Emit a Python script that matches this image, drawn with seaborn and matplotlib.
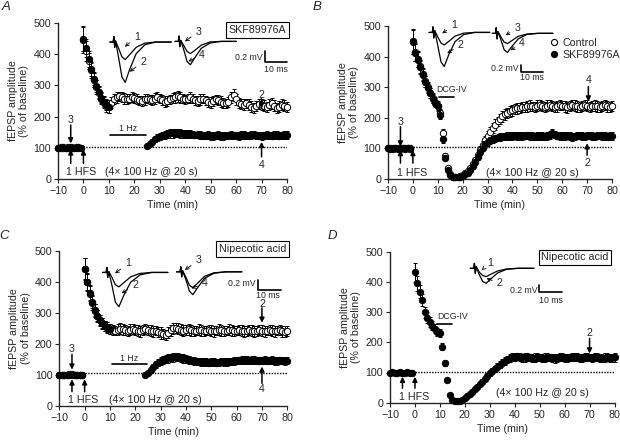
import numpy as np
import pandas as pd
import seaborn as sns
import matplotlib
matplotlib.use('Agg')
import matplotlib.pyplot as plt
from matplotlib.lines import Line2D

sns.set_theme(style='ticks')
plt.rcParams['font.family'] = ['Liberation Sans', 'DejaVu Sans']

NA = float('nan')

# time axis, one sample per minute
time_min = list(range(-10, 81))

# ---------------- panel A ----------------
a_ctrl = [100, 101, 99, 100, 102, 99, 100, 101, 100, 99,
          445, 410, 378, 348, 318, 295, 275, 258, 245, 235, 232,
          245, 255, 262, 265, 262, 258, 255, 258, 262, 260,
          255, 252, 250, 255, 258, 255, 252, 258, 262, 258,
          252, 248, 250, 255, 260, 262, 265, 262, 258, 255,
          258, 262, 258, 252, 250, 255, 258, 252, 248, 245,
          250, 255, 252, 248, 245, 242, 248, 262, 270, 255,
          245, 240, 238, 242, 238, 232, 228, 235, 240, 238,
          235, 232, 238, 242, 235, 228, 232, 238, 235, 232]
a_ctrl_sem = [6, 5, 6, 5, 6, 5, 6, 5, 6, 5,
              42, 32, 27, 24, 22, 21, 20, 19, 19, 19, 21,
              18, 16, 17, 15, 16, 17, 16, 15, 16, 17,
              16, 15, 16, 17, 16, 15, 16, 17, 16, 15,
              16, 17, 16, 15, 16, 17, 18, 17, 16, 15,
              16, 17, 16, 15, 16, 17, 16, 15, 16, 17,
              16, 15, 16, 17, 16, 15, 16, 18, 20, 17,
              16, 17, 18, 16, 17, 18, 17, 16, 17, 18,
              17, 16, 17, 18, 17, 16, 17, 18, 17, 16]
a_skf = [100, 99, 101, 100, 100, 102, 99, 100, 101, 100,
         450, 420, 385, 352, 322, 298, 278, 260, 248, 238, 232,
         NA, NA, NA, NA, NA, NA, NA, NA, NA, NA, NA, NA, NA, NA,
         105, 113, 120, 127, 132, 136,
         139, 142, 144, 146, 147, 148, 147, 146, 145, 144,
         145, 143, 142, 141, 142, 140, 139, 140, 141, 139,
         138, 140, 141, 139, 138, 139, 140, 141, 140, 139,
         138, 140, 141, 140, 139, 141, 142, 140, 139, 138,
         140, 141, 140, 139, 141, 140, 139, 140, 141, 140]
a_skf_sem = [5, 6, 5, 6, 5, 6, 5, 6, 5, 6,
             40, 30, 26, 23, 21, 20, 19, 18, 18, 18, 20,
             NA, NA, NA, NA, NA, NA, NA, NA, NA, NA, NA, NA, NA, NA,
             6, 8, 9, 10, 11, 12,
             12, 13, 12, 13, 14, 13, 12, 13, 12, 13,
             12, 13, 12, 11, 12, 13, 12, 11, 12, 13,
             12, 11, 12, 13, 12, 11, 12, 13, 12, 11,
             12, 13, 12, 11, 12, 13, 12, 11, 12, 13,
             12, 13, 12, 11, 12, 13, 12, 11, 12, 13]

# ---------------- panel B ----------------
b_ctrl = [100, 101, 99, 100, 101, 99, 100, 102, 100, 99,
          448, 415, 392, 368, 343, 320, 300, 282, 265, 252, 240, 215, 150,
          75, 35, 15, 8, 7, 8, 10, 13, 18, 25, 35, 48, 62, 78, 95, 112, 128, 142,
          155, 167, 178, 188, 197, 205, 211, 216, 221, 225,
          228, 231, 233, 235, 236, 238, 240, 237, 236, 239,
          241, 238, 236, 240, 242, 239, 236, 238, 241, 240,
          237, 235, 239, 242, 240, 237, 235, 238, 241, 239,
          236, 238, 240, 237, 235, 239, 241, 238, 236, 239]
b_ctrl_sem = [5, 6, 5, 6, 5, 6, 5, 6, 5, 6,
              40, 30, 25, 22, 20, 18, 17, 16, 15, 15, 15, 15, 12,
              10, 6, 4, 3, 3, 3, 4, 5, 6, 7, 8, 9, 10, 11, 12, 13, 14, 15,
              15, 16, 17, 16, 17, 18, 17, 16, 17, 18,
              17, 18, 17, 16, 17, 18, 17, 16, 17, 18,
              17, 16, 17, 18, 17, 16, 17, 18, 17, 16,
              17, 18, 17, 16, 17, 18, 17, 16, 17, 18,
              17, 16, 17, 18, 17, 16, 17, 18, 17, 16]
b_skf = [100, 99, 101, 100, 99, 101, 100, 99, 101, 100,
         450, 412, 390, 365, 340, 318, 298, 280, 263, 250, 238, 210, 130,
         70, 30, 12, 6, 5, 6, 8, 11, 15, 21, 30, 42, 56, 72, 88, 102, 113, 120,
         126, 130, 133, 135, 137, 138, 139, 140, 141, 140,
         142, 141, 139, 140, 142, 143, 141, 140, 139, 141,
         142, 140, 139, 141, 143, 150, 145, 141, 140, 139,
         141, 142, 140, 138, 139, 141, 142, 140, 139, 141,
         142, 140, 139, 141, 142, 140, 141, 139, 140, 142]
b_skf_sem = [5, 6, 5, 6, 5, 6, 5, 6, 5, 6,
             40, 28, 24, 21, 19, 18, 17, 16, 15, 15, 15, 14, 12,
             9, 5, 3, 3, 3, 3, 3, 4, 5, 6, 7, 8, 9, 10, 10, 11, 11, 12,
             12, 12, 11, 12, 13, 12, 11, 12, 13, 12,
             11, 12, 13, 12, 11, 12, 13, 12, 11, 12,
             13, 12, 11, 12, 13, 14, 12, 11, 12, 13,
             12, 11, 12, 13, 12, 11, 12, 13, 12, 11,
             12, 13, 12, 11, 12, 13, 12, 11, 12, 13]

# ---------------- panel C ----------------
c_ctrl = [100, 101, 99, 100, 102, 99, 100, 101, 100, 99,
          440, 398, 362, 332, 307, 289, 276, 266, 258, 252, 248,
          245, 243, 246, 249, 247, 244, 242, 245, 248, 246,
          243, 241, 244, 247, 245, 242, 240, 243, 238, 235,
          232, 230, 236, 244, 250, 252, 249, 246, 243, 245,
          247, 244, 241, 243, 246, 244, 241, 243, 245, 242,
          240, 243, 246, 244, 241, 243, 246, 244, 241, 243,
          245, 243, 240, 242, 245, 243, 240, 242, 244, 242,
          240, 243, 245, 242, 240, 243, 244, 241, 239, 242]
c_ctrl_sem = [6, 5, 6, 5, 6, 5, 6, 5, 6, 5,
              35, 28, 24, 22, 20, 19, 18, 17, 17, 17, 17,
              17, 16, 17, 18, 17, 16, 17, 18, 17, 16,
              17, 18, 17, 16, 17, 18, 17, 16, 17, 18,
              17, 16, 17, 18, 17, 16, 17, 18, 17, 16,
              17, 18, 17, 16, 17, 18, 17, 16, 17, 18,
              17, 16, 17, 18, 17, 16, 17, 18, 17, 16,
              17, 18, 17, 16, 17, 18, 17, 16, 17, 18,
              17, 16, 17, 18, 17, 16, 17, 18, 17, 16]
c_skf = [100, 99, 101, 100, 100, 102, 99, 100, 101, 100,
         442, 400, 365, 335, 310, 291, 277, 267, 259, 253, 249,
         NA, NA, NA, NA, NA, NA, NA, NA, NA, NA, NA, NA, NA,
         100, 106, 116, 126, 134, 140, 145,
         148, 151, 153, 155, 157, 158, 157, 155, 153, 151,
         149, 147, 145, 144, 143, 142, 143, 141, 140, 141,
         142, 140, 141, 143, 142, 141, 142, 144, 145, 146,
         147, 148, 149, 148, 147, 148, 149, 147, 146, 147,
         148, 146, 147, 148, 146, 145, 147, 146, 145, 146]
c_skf_sem = [5, 6, 5, 6, 5, 6, 5, 6, 5, 6,
             33, 27, 23, 21, 19, 18, 17, 16, 16, 16, 16,
             NA, NA, NA, NA, NA, NA, NA, NA, NA, NA, NA, NA, NA,
             5, 7, 9, 10, 11, 12, 13,
             13, 14, 13, 14, 15, 14, 13, 14, 13, 12,
             13, 12, 13, 12, 11, 12, 13, 12, 11, 12,
             13, 12, 11, 12, 13, 12, 11, 12, 13, 12,
             11, 12, 13, 12, 11, 12, 13, 12, 11, 12,
             13, 12, 11, 12, 13, 12, 11, 12, 13, 12]

# ---------------- panel D ----------------
d_skf = [100, 101, 99, 100, 101, 99, 100, 102, 100, 99,
         432, 395, 368, 340, 300, 282, 268, 255, 245, 235, 230, 185, 130, 75, 25, 8,
         6, 5, 6, 9, 14, 22, 30, 37, 45, 53, 62, 70, 79, 88, 97,
         105, 112, 119, 126, 132, 138, 143, 147, 150, 152,
         153, 151, 149, 150, 152, 150, 148, 149, 151, 150,
         148, 149, 151, 150, 148, 147, 149, 151, 150, 148,
         147, 149, 150, 152, 150, 148, 149, 151, 152, 150,
         149, 151, 150, 148, 147, 149, 150, 148, 149, 150]
d_skf_sem = [5, 6, 5, 6, 5, 6, 5, 6, 5, 6,
             32, 26, 22, 20, 18, 17, 16, 15, 14, 14, 14, 12, 10, 8, 5, 3,
             3, 3, 3, 3, 4, 5, 5, 6, 6, 7, 7, 8, 8, 9, 10,
             10, 11, 11, 12, 12, 13, 13, 13, 13, 14,
             13, 12, 13, 14, 13, 12, 13, 14, 13, 12,
             13, 14, 13, 12, 13, 14, 13, 12, 13, 14,
             13, 12, 13, 14, 13, 12, 13, 14, 13, 12,
             13, 14, 13, 12, 13, 14, 13, 12, 13, 14]

# ---------------- example traces (ms, mV) ----------------
trace_ms = [0, 1.5, 1.8, 2.2, 2.6, 4.0, 5.5, 7.0, 9.0, 12, 16, 21, 28]
trace_a1 = [0, 0, 0.10, -0.10, 0.02, -0.12, -0.28, -0.33, -0.24, -0.10, -0.02, 0.0, 0.0]
trace_a2 = [0, 0, 0.10, -0.10, 0.02, -0.30, -0.66, -0.76, -0.52, -0.22, -0.05, 0.0, 0.0]
trace_a3 = [0, 0, 0.10, -0.10, 0.02, -0.08, -0.19, -0.23, -0.17, -0.07, -0.01, 0.0, 0.0]
trace_a4 = [0, 0, 0.10, -0.10, 0.02, -0.16, -0.38, -0.44, -0.31, -0.13, -0.03, 0.0, 0.0]
trace_b1 = [0, 0, 0.15, -0.15, 0.05, -0.12, -0.29, -0.34, -0.25, -0.10, -0.02, 0.0, 0.0]
trace_b2 = [0, 0, 0.15, -0.15, 0.05, -0.35, -0.80, -0.93, -0.62, -0.25, -0.06, 0.0, 0.0]
trace_b3 = [0, 0, 0.15, -0.15, 0.05, -0.10, -0.24, -0.28, -0.20, -0.08, -0.02, 0.0, 0.0]
trace_b4 = [0, 0, 0.15, -0.15, 0.05, -0.18, -0.45, -0.52, -0.36, -0.15, -0.03, 0.0, 0.0]
trace_c1 = [0, 0, 0.10, -0.10, 0.02, -0.10, -0.25, -0.29, -0.21, -0.09, -0.02, 0.0, 0.0]
trace_c2 = [0, 0, 0.10, -0.10, 0.02, -0.26, -0.60, -0.69, -0.47, -0.20, -0.05, 0.0, 0.0]
trace_c3 = [0, 0, 0.10, -0.10, 0.02, -0.11, -0.27, -0.32, -0.23, -0.09, -0.02, 0.0, 0.0]
trace_c4 = [0, 0, 0.10, -0.10, 0.02, -0.16, -0.39, -0.46, -0.32, -0.13, -0.03, 0.0, 0.0]
trace_d1 = [0, 0, 0.15, -0.15, 0.05, -0.12, -0.22, -0.25, -0.18, -0.08, -0.02, 0.0, 0.0]
trace_d2 = [0, 0, 0.15, -0.15, 0.05, -0.20, -0.40, -0.45, -0.32, -0.14, -0.03, 0.0, 0.0]

FS = 7.7
FS_SMALL = 6.3


def plot_series(ax, values, sem, filled, z):
    df = pd.DataFrame({'time': time_min, 'value': values, 'sem': sem}).dropna()
    ax.errorbar(df['time'], df['value'], yerr=df['sem'], fmt='none', ecolor='black',
                elinewidth=0.7, capsize=1.4, capthick=0.7, zorder=z, clip_on=False)
    sns.scatterplot(data=df, x='time', y='value', ax=ax, s=21,
                    color='black' if filled else 'white', edgecolor='black',
                    linewidth=0.7, zorder=z + 0.5, clip_on=False, legend=False)


def style_axes(ax):
    ax.set_xlim(-10, 80)
    ax.set_ylim(0, 500)
    ax.set_xticks(range(-10, 81, 10))
    ax.set_yticks(range(0, 501, 100))
    ax.set_xlabel('Time (min)', fontsize=FS, labelpad=3)
    ax.set_ylabel('fEPSP amplitude\n(% of baseline)', fontsize=FS, labelpad=3)
    sns.despine(ax=ax)
    for s in ['left', 'bottom']:
        ax.spines[s].set_linewidth(1.0)
    ax.tick_params(direction='out', length=3, width=0.8, labelsize=FS, pad=2)


def dotted(ax, y):
    ax.plot([0, 80], [y, y], ls=(0, (1, 1)), color='black', lw=1, zorder=1)


def big_arrow(ax, x, y_from, y_to):
    ax.annotate('', xy=(x, y_to), xytext=(x, y_from), annotation_clip=False,
                arrowprops=dict(arrowstyle='-|>', color='black', lw=1.1,
                                mutation_scale=7, shrinkA=0, shrinkB=0))


def trace_label(ax, label, text_xy, tip_xy):
    ax.annotate(label, xy=tip_xy, xytext=text_xy, ha='center', va='center',
                fontsize=FS, annotation_clip=False,
                arrowprops=dict(arrowstyle='->', color='black', lw=0.6,
                                shrinkA=1, shrinkB=0, mutation_scale=6))


def draw_trace(ax, mv, x0, y0, min_per_ms, units_per_mv):
    x = x0 + np.asarray(trace_ms) * min_per_ms
    y = y0 + np.asarray(mv) * units_per_mv
    ax.plot(x, y, color='black', lw=0.9, clip_on=False, zorder=6)


def scale_bar(ax, x0, y0, min_per_ms, units_per_mv, mv_xy, ms_xy):
    ax.plot([x0, x0, x0 + 10 * min_per_ms], [y0 + 0.2 * units_per_mv, y0, y0],
            color='black', lw=1.2, clip_on=False)
    ax.text(*mv_xy, '0.2 mV', ha='right', va='center', fontsize=FS_SMALL)
    ax.text(*ms_xy, '10 ms', ha='center', va='center', fontsize=FS_SMALL)


def box_label(ax, x, y, text):
    ax.text(x, y, text, ha='center', va='center', fontsize=FS,
            bbox=dict(boxstyle='square,pad=0.25', fc='white', ec='black', lw=0.8))


fig = plt.figure(figsize=(6.2, 4.41), dpi=100)
axA = fig.add_axes([58 / 620, 1 - 179 / 441, 229 / 620, 156 / 441])
axB = fig.add_axes([388 / 620, 1 - 179 / 441, 224 / 620, 153 / 441])
axC = fig.add_axes([59.3 / 620, 1 - 406 / 441, 228 / 620, 155.3 / 441])
axD = fig.add_axes([390 / 620, 1 - 402.7 / 441, 224.5 / 620, 151 / 441])

# ---- A ----
ax = axA
dotted(ax, 104)
plot_series(ax, a_ctrl, a_ctrl_sem, False, 2)
plot_series(ax, a_skf, a_skf_sem, True, 4)
big_arrow(ax, -5, 173, 114)
ax.text(-5, 189, '3', ha='center', va='center', fontsize=FS)
big_arrow(ax, -5, 50, 95)
big_arrow(ax, 0, 50, 95)
ax.text(-6.8, 23, '1 HFS', ha='left', va='center', fontsize=FS)
ax.text(8.5, 23, '(4\u00d7 100 Hz @ 20 s)', ha='left', va='center', fontsize=FS)
ax.plot([10.4, 24.6], [142, 142], color='black', lw=1.2)
ax.text(17.5, 163, '1 Hz', ha='center', va='center', fontsize=FS_SMALL)
big_arrow(ax, 70, 258, 226)
ax.text(70, 270, '2', ha='center', va='center', fontsize=FS)
big_arrow(ax, 70, 71, 119)
ax.text(70, 45, '4', ha='center', va='center', fontsize=FS)
box_label(ax, 68.3, 478, 'SKF89976A')
draw_trace(ax, trace_a1, 10.4, 439, 0.86, 170)
draw_trace(ax, trace_a2, 10.4, 439, 0.86, 170)
draw_trace(ax, trace_a3, 36.0, 441, 0.86, 170)
draw_trace(ax, trace_a4, 36.0, 441, 0.86, 170)
trace_label(ax, '1', (21.0, 456), (16.3, 424))
trace_label(ax, '2', (23.5, 376), (18.2, 344))
trace_label(ax, '3', (45.2, 472), (39.9, 441))
trace_label(ax, '4', (46.5, 398), (41.2, 377))
scale_bar(ax, 71.4, 375, 0.86, 170, (70.3, 390), (75.7, 350))
style_axes(ax)

# ---- B ----
ax = axB
dotted(ax, 104)
plot_series(ax, b_ctrl, b_ctrl_sem, False, 2)
plot_series(ax, b_skf, b_skf_sem, True, 4)
big_arrow(ax, -5, 171, 106)
ax.text(-5, 187, '3', ha='center', va='center', fontsize=FS)
big_arrow(ax, -5, 52, 95)
big_arrow(ax, 0, 52, 95)
ax.text(-6.2, 21, '1 HFS', ha='left', va='center', fontsize=FS)
ax.text(29.2, 21, '(4\u00d7 100 Hz @ 20 s)', ha='left', va='center', fontsize=FS)
ax.plot([10.5, 16.5], [267, 267], color='black', lw=1.2)
ax.text(15.6, 291, 'DCG-IV', ha='center', va='center', fontsize=FS_SMALL)
big_arrow(ax, 70.5, 302, 253)
ax.text(70.5, 324, '4', ha='center', va='center', fontsize=FS)
big_arrow(ax, 70, 78, 117)
ax.text(70, 51, '2', ha='center', va='center', fontsize=FS)
draw_trace(ax, trace_b1, 6.5, 479, 0.87, 120)
draw_trace(ax, trace_b2, 6.5, 479, 0.87, 120)
draw_trace(ax, trace_b3, 31.9, 476, 0.87, 120)
draw_trace(ax, trace_b4, 31.9, 476, 0.87, 120)
trace_label(ax, '1', (16.5, 503), (11.8, 476))
trace_label(ax, '2', (19.2, 438), (13.8, 411))
trace_label(ax, '3', (41.9, 492), (37.2, 470))
trace_label(ax, '4', (43.9, 443), (39.2, 421))
scale_bar(ax, 43.5, 349, 0.87, 120, (42.4, 362), (47.8, 332))
handles = [Line2D([], [], marker='o', ls='', mfc='white', mec='black', mew=0.8, ms=4.4),
           Line2D([], [], marker='o', ls='', mfc='black', mec='black', mew=0.8, ms=4.4)]
ax.legend(handles, ['Control', 'SKF89976A'], loc='upper left',
          bbox_to_anchor=(0.72, 0.92), frameon=False, fontsize=FS,
          handlelength=0.8, handletextpad=0.4, labelspacing=0.15, borderpad=0,
          borderaxespad=0)
style_axes(ax)

# ---- C ----
ax = axC
dotted(ax, 106)
plot_series(ax, c_ctrl, c_ctrl_sem, False, 2)
plot_series(ax, c_skf, c_skf_sem, True, 4)
big_arrow(ax, -5, 166, 117)
ax.text(-5, 182, '3', ha='center', va='center', fontsize=FS)
big_arrow(ax, -5, 46, 86)
big_arrow(ax, 0, 46, 86)
ax.text(-6.5, 19, '1 HFS', ha='left', va='center', fontsize=FS)
ax.text(9.5, 19, '(4\u00d7 100 Hz @ 20 s)', ha='left', va='center', fontsize=FS)
ax.plot([10.7, 24.5], [135, 135], color='black', lw=1.2)
ax.text(17.6, 154, '1 Hz', ha='center', va='center', fontsize=FS_SMALL)
big_arrow(ax, 70, 316, 268)
ax.text(70, 328, '2', ha='center', va='center', fontsize=FS)
big_arrow(ax, 70, 73, 127)
ax.text(70, 55, '4', ha='center', va='center', fontsize=FS)
box_label(ax, 66.2, 505, 'Nipecotic acid')
draw_trace(ax, trace_c1, 7.1, 430, 0.92, 160)
draw_trace(ax, trace_c2, 7.1, 430, 0.92, 160)
draw_trace(ax, trace_c3, 36.3, 432, 0.92, 160)
draw_trace(ax, trace_c4, 36.3, 432, 0.92, 160)
trace_label(ax, '1', (17.2, 459), (12.0, 427))
trace_label(ax, '2', (19.9, 390), (14.6, 363))
trace_label(ax, '3', (44.9, 470), (39.6, 438))
trace_label(ax, '4', (47.5, 395), (42.2, 379))
scale_bar(ax, 68.3, 375, 0.92, 160, (67.6, 395), (72.5, 357))
style_axes(ax)

# ---- D ----
ax = axD
dotted(ax, 103)
plot_series(ax, d_skf, d_skf_sem, True, 4)
big_arrow(ax, -5, 48, 86)
big_arrow(ax, 0, 48, 86)
ax.text(-6.2, 20, '1 HFS', ha='left', va='center', fontsize=FS)
ax.text(32.6, 33, '(4\u00d7 100 Hz @ 20 s)', ha='left', va='center', fontsize=FS)
ax.plot([9, 15], [261, 261], color='black', lw=1.2)
ax.text(15.1, 287, 'DCG-IV', ha='center', va='center', fontsize=FS_SMALL)
big_arrow(ax, 70, 213, 163)
ax.text(70, 230, '2', ha='center', va='center', fontsize=FS)
box_label(ax, 64.2, 481, 'Nipecotic acid')
draw_trace(ax, trace_d1, 22.2, 445, 0.91, 110)
draw_trace(ax, trace_d2, 22.2, 445, 0.91, 110)
trace_label(ax, '1', (30.1, 464), (26.8, 439))
trace_label(ax, '2', (34.0, 395), (28.7, 412))
scale_bar(ax, 49.8, 368, 0.91, 110, (49.1, 373), (54.4, 340))
style_axes(ax)

for label, (px, py) in {'A': (6, 7), 'B': (317, 7), 'C': (4, 236), 'D': (332, 236)}.items():
    fig.text(px / 620, 1 - py / 441, label, ha='center', va='center',
             fontsize=9.5, style='italic')

fig.savefig('out.png', dpi=100)
